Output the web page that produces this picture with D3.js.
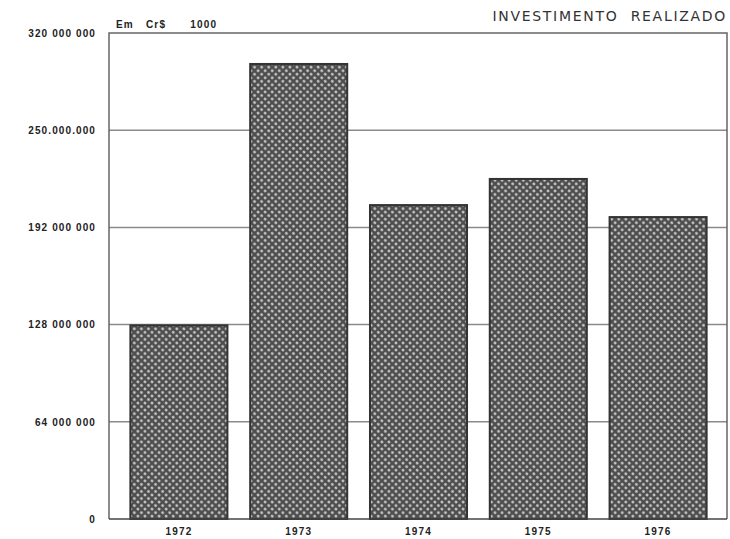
<!DOCTYPE html>
<html><head><meta charset="utf-8">
<script src="https://cdn.jsdelivr.net/npm/d3@7"></script>
<style>body{margin:0;background:#fff}svg{display:block}</style>
</head><body>
<script>
const years = ["1972","1973","1974","1975","1976"];
const investimento = [127500000, 299600000, 206700000, 223900000, 198800000];
const tickValues = [0, 64000000, 128000000, 192000000, 256000000, 320000000];
const tickLabels = ["0","64 000 000","128 000 000","192 000 000","250.000.000","320 000 000"];
const unitLabel = "Em Cr$  1000";
const title = "INVESTIMENTO  REALIZADO";

const W = 730, H = 539;
const svg = d3.select("body").append("svg").attr("width", W).attr("height", H);
const pLeft = 109, pRight = 727, pTop = 33, pBottom = 519;

const defs = svg.append("defs");
const pat = defs.append("pattern").attr("id","dots").attr("patternUnits","userSpaceOnUse")
  .attr("width",5).attr("height",5).attr("patternTransform","rotate(45)");
pat.append("rect").attr("width",5).attr("height",5).attr("fill","#4e4e4e");
pat.append("circle").attr("cx",2.5).attr("cy",2.5).attr("r",1.35).attr("fill","#d8d8d8");

const x = d3.scaleBand().domain(years).range([119, 718]).paddingInner(0.19).paddingOuter(0.095);
const y = d3.scaleLinear().domain([0, 320000000]).range([pBottom, pTop]);

// gridlines
svg.append("g").selectAll("line").data(tickValues.slice(1, 5)).join("line")
  .attr("x1", pLeft).attr("x2", pRight).attr("y1", d => y(d)).attr("y2", d => y(d))
  .attr("stroke", "#8a8a8a").attr("stroke-width", 1.5);

// frame
svg.append("path").attr("d", `M${pLeft},${pBottom}V${pTop}H${pRight}V${pBottom}`)
  .attr("fill","none").attr("stroke","#666").attr("stroke-width",1.5);

// bars
svg.append("g").selectAll("rect").data(years).join("rect")
  .attr("x", d => x(d)).attr("width", x.bandwidth())
  .attr("y", (d,i) => y(investimento[i])).attr("height", (d,i) => pBottom - y(investimento[i]))
  .attr("fill", "url(#dots)").attr("stroke", "#333").attr("stroke-width", 2);

// axes
const yAxis = d3.axisLeft(y).tickValues(tickValues).tickSize(0).tickPadding(13)
  .tickFormat((d,i) => tickLabels[i]);
const gy = svg.append("g").attr("transform", `translate(${pLeft},0)`).call(yAxis);
gy.select(".domain").remove();
gy.selectAll("text").attr("font-family","Liberation Sans, Arial, sans-serif")
  .attr("font-size", 10).attr("font-weight","bold").attr("fill","#222")
  .attr("letter-spacing", 1.1);

const xAxis = d3.axisBottom(x).tickSize(0).tickPadding(9);
const gx = svg.append("g").attr("transform", `translate(0,${pBottom})`).call(xAxis);
gx.select(".domain").attr("stroke","#444").attr("stroke-width",1.5).attr("d", `M${pLeft},0H${pRight}`);
gx.selectAll("text").attr("font-family","Liberation Sans, Arial, sans-serif")
  .attr("font-size", 10).attr("font-weight","bold").attr("fill","#222")
  .attr("letter-spacing", 1.2);

svg.append("text").attr("x", 116).attr("y", 28).text(unitLabel)
  .attr("font-family","Liberation Sans, Arial, sans-serif").attr("font-size", 10)
  .attr("font-weight","bold").attr("fill","#222").attr("letter-spacing", 1.2)
  .attr("word-spacing", 8).style("white-space","pre");

svg.append("text").attr("x", 727).attr("y", 21).attr("text-anchor","end").text(title)
  .attr("font-family","DejaVu Sans, sans-serif").attr("font-size", 14)
  .attr("fill","#333").attr("letter-spacing", 1.7).style("white-space","pre");
</script>
</body></html>
